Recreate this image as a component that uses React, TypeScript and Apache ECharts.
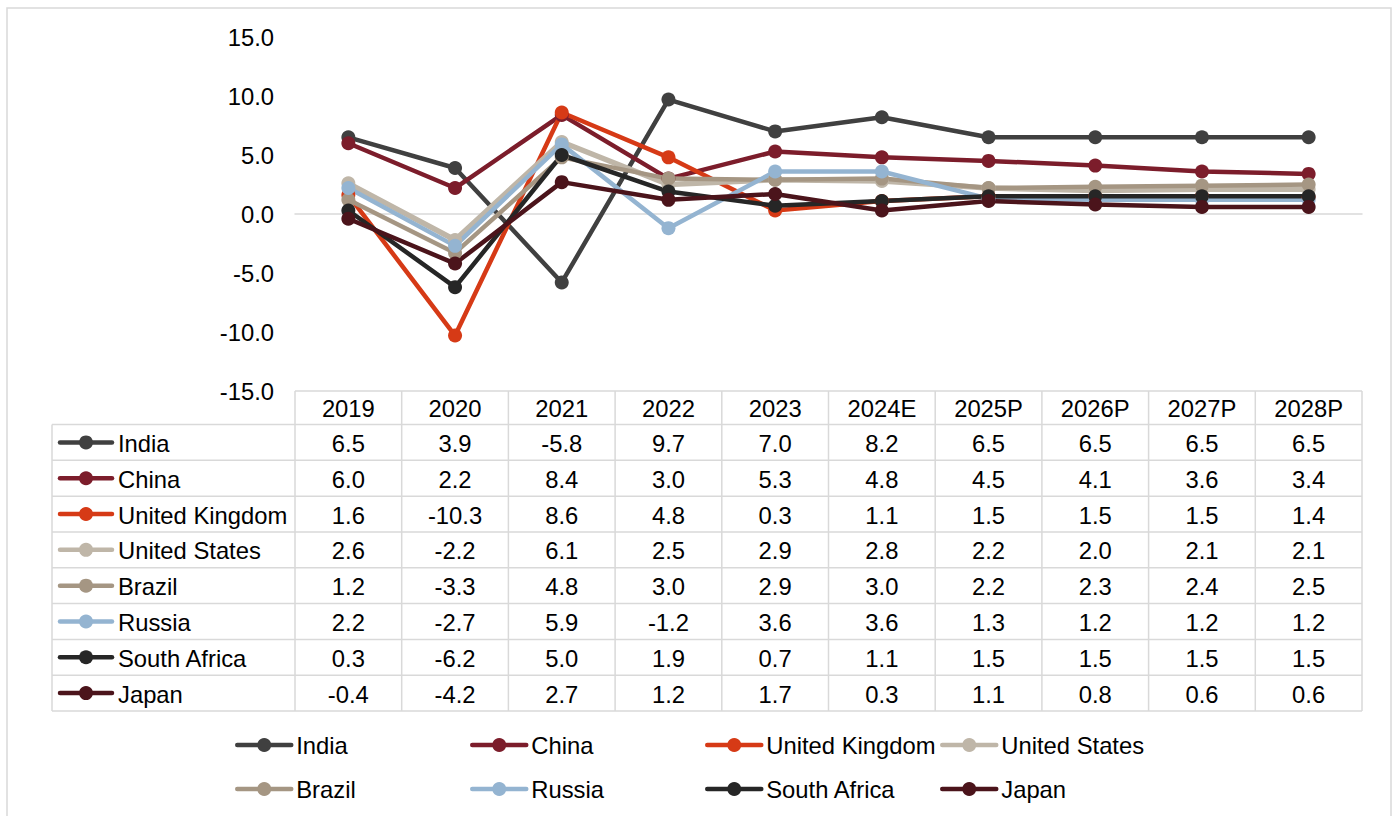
import React, { useEffect, useRef } from "react";
import * as echarts from "echarts";

const categories = ["2019", "2020", "2021", "2022", "2023", "2024E", "2025P", "2026P", "2027P", "2028P"];
const seriesNames = ["India", "China", "United Kingdom", "United States", "Brazil", "Russia", "South Africa", "Japan"];
const india = [6.5, 3.9, -5.8, 9.7, 7.0, 8.2, 6.5, 6.5, 6.5, 6.5];
const china = [6.0, 2.2, 8.4, 3.0, 5.3, 4.8, 4.5, 4.1, 3.6, 3.4];
const unitedKingdom = [1.6, -10.3, 8.6, 4.8, 0.3, 1.1, 1.5, 1.5, 1.5, 1.4];
const unitedStates = [2.6, -2.2, 6.1, 2.5, 2.9, 2.8, 2.2, 2.0, 2.1, 2.1];
const brazil = [1.2, -3.3, 4.8, 3.0, 2.9, 3.0, 2.2, 2.3, 2.4, 2.5];
const russia = [2.2, -2.7, 5.9, -1.2, 3.6, 3.6, 1.3, 1.2, 1.2, 1.2];
const southAfrica = [0.3, -6.2, 5.0, 1.9, 0.7, 1.1, 1.5, 1.5, 1.5, 1.5];
const japan = [-0.4, -4.2, 2.7, 1.2, 1.7, 0.3, 1.1, 0.8, 0.6, 0.6];
const seriesValues = [india, china, unitedKingdom, unitedStates, brazil, russia, southAfrica, japan];
const seriesColors = ["#404040", "#7C1D2B", "#D63A16", "#BFB6A8", "#A59683", "#94B4D1", "#262626", "#4B141B"];
const yMin = -15;
const yMax = 15;
const yInterval = 5;

const FONT = "'Liberation Sans', Arial, sans-serif";
const FS = 23.8;
const W = 1397;
const H = 816;
const GRID_LEFT = 295;
const GRID_RIGHT_X = 1362;
const GRID_TOP = 37;
const GRID_BOTTOM_Y = 391;
const TABLE_LEFT = 52;
const HEADER_BOTTOM = 424.5;
const TABLE_BOTTOM = 711;
const LEG_X = [235, 470, 705, 940];
const LEG_Y = [745, 789];
const GRID_COLOR = "#D9D9D9";

function buildGraphics() {
  const els: any[] = [];
  const nCols = categories.length;
  const colW = (GRID_RIGHT_X - GRID_LEFT) / nCols;
  const nRows = seriesNames.length;
  const rowH = (TABLE_BOTTOM - HEADER_BOTTOM) / nRows;
  const ls = { stroke: GRID_COLOR, lineWidth: 1.5 };
  els.push({ type: "rect", shape: { x: 7, y: 8, width: 1384, height: 830 }, style: { fill: "none", stroke: GRID_COLOR, lineWidth: 1.5 }, silent: true });
  els.push({ type: "line", shape: { x1: GRID_LEFT, y1: GRID_BOTTOM_Y, x2: GRID_RIGHT_X, y2: GRID_BOTTOM_Y }, style: ls });
  for (let k = 0; k <= nRows; k++) {
    const y = HEADER_BOTTOM + k * rowH;
    els.push({ type: "line", shape: { x1: TABLE_LEFT, y1: y, x2: GRID_RIGHT_X, y2: y }, style: ls });
  }
  els.push({ type: "line", shape: { x1: TABLE_LEFT, y1: HEADER_BOTTOM, x2: TABLE_LEFT, y2: TABLE_BOTTOM }, style: ls });
  for (let i = 0; i <= nCols; i++) {
    const x = GRID_LEFT + i * colW;
    els.push({ type: "line", shape: { x1: x, y1: GRID_BOTTOM_Y, x2: x, y2: TABLE_BOTTOM }, style: ls });
  }
  categories.forEach((c, i) => {
    els.push({
      type: "text",
      x: GRID_LEFT + (i + 0.5) * colW,
      y: (GRID_BOTTOM_Y + HEADER_BOTTOM) / 2 + 1,
      style: { text: c, fill: "#000", font: `${FS}px ${FONT}`, align: "center", verticalAlign: "middle" },
    });
  });
  seriesNames.forEach((name, r) => {
    const cy = HEADER_BOTTOM + (r + 0.5) * rowH + 1;
    const color = seriesColors[r];
    els.push({ type: "line", shape: { x1: 60, y1: cy - 1, x2: 112, y2: cy - 1 }, style: { stroke: color, lineWidth: 4.5, lineCap: "round" } });
    els.push({ type: "circle", shape: { cx: 86, cy: cy - 1, r: 7 }, style: { fill: color } });
    els.push({
      type: "text",
      x: 118,
      y: cy,
      style: { text: name, fill: "#000", font: `${FS}px ${FONT}`, align: "left", verticalAlign: "middle" },
    });
    seriesValues[r].forEach((v, i) => {
      els.push({
        type: "text",
        x: GRID_LEFT + (i + 0.5) * colW,
        y: cy,
        style: { text: v.toFixed(1), fill: "#000", font: `${FS}px ${FONT}`, align: "center", verticalAlign: "middle" },
      });
    });
  });
  return els;
}

export default function App() {
  const ref = useRef<HTMLDivElement>(null);
  useEffect(() => {
    if (!ref.current) return;
    const chart = echarts.init(ref.current, null, { renderer: "svg" });
    const option: any = {
      animation: false,
      backgroundColor: "#fff",
      textStyle: { fontFamily: FONT },
      grid: { left: GRID_LEFT, right: W - GRID_RIGHT_X, top: GRID_TOP, bottom: H - GRID_BOTTOM_Y },
      xAxis: {
        type: "category",
        data: categories,
        boundaryGap: true,
        axisLine: { show: true, onZero: true, lineStyle: { color: GRID_COLOR, width: 1.5 } },
        axisTick: { show: false },
        axisLabel: { show: false },
        splitLine: { show: false },
      },
      yAxis: {
        type: "value",
        min: yMin,
        max: yMax,
        interval: yInterval,
        axisLine: { show: false },
        axisTick: { show: false },
        splitLine: { show: false },
        axisLabel: {
          formatter: (v: number) => v.toFixed(1),
          color: "#000",
          fontSize: FS,
          fontFamily: FONT,
          margin: 21,
        },
      },
      legend: seriesNames.map((n, i) => ({
        data: [n],
        left: LEG_X[i % 4],
        top: LEG_Y[Math.floor(i / 4)] - 12,
        padding: 0,
        itemWidth: 54,
        itemHeight: 17.5,
        selectedMode: false,
        lineStyle: { width: 4.5, cap: "round" },
        textStyle: { fontSize: FS, color: "#000", fontFamily: FONT },
      })),
      series: seriesNames.map((n, i) => ({
        name: n,
        type: "line",
        data: seriesValues[i],
        symbol: "circle",
        symbolSize: 14,
        color: seriesColors[i],
        lineStyle: { width: i === 3 ? 5.5 : 4.5, color: seriesColors[i] },
        itemStyle: { color: seriesColors[i] },
        emphasis: { disabled: true },
      })),
      graphic: buildGraphics(),
    };
    chart.setOption(option);
    return () => chart.dispose();
  }, []);
  return <div ref={ref} style={{ position: "fixed", left: 0, top: 0, width: W, height: H }} />;
}
